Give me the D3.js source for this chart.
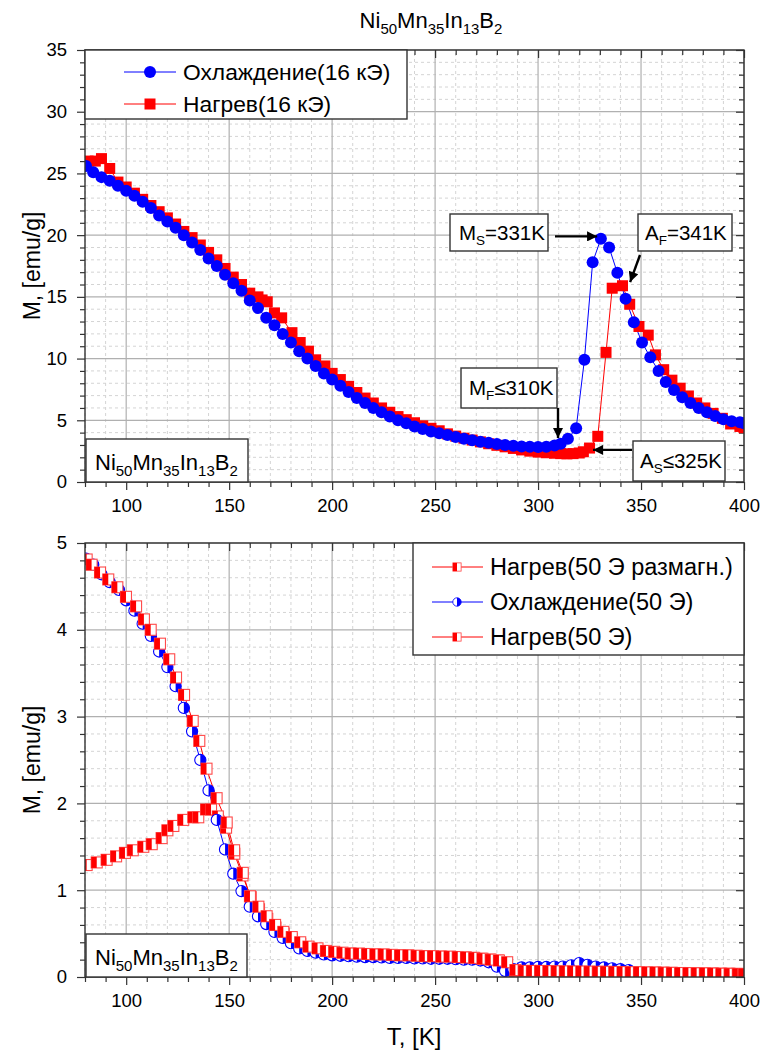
<!DOCTYPE html>
<html>
<head>
<meta charset="utf-8">
<script src="https://cdn.jsdelivr.net/npm/d3@7"></script>
<style>
  body { margin: 0; background: #fff; }
  svg { display: block; font-family: 'Liberation Sans', Arial, sans-serif; }
</style>
</head>
<body>
<svg id="chart" width="761" height="1050"></svg>
<script>
// ---------- Upper panel: 16 kOe ----------
const tempCool16 = [80.5, 84, 88, 92, 96, 100, 104, 108, 112, 116, 120, 124, 128, 132, 136, 140, 144, 148, 152, 156,
  160, 164, 168, 172, 176, 180, 184, 188, 192, 196, 200, 204, 208, 212, 216, 220, 224, 228, 232, 236,
  240, 244, 248, 252, 256, 260, 264, 268, 272, 276, 280, 284, 288, 292, 296, 300, 304, 308, 311, 314.5,
  318.5, 322.5, 326.5, 330.5, 334.5, 338.5, 342.5, 346.5, 350.5, 354.5, 358.5, 362, 366, 370, 374, 378,
  382, 386, 390, 394, 398, 400];
const magCool16 = [25.6, 25.1, 24.7, 24.4, 24.0, 23.6, 23.2, 22.7, 22.2, 21.6, 21.1, 20.6, 20.0, 19.4, 18.8, 18.1, 17.5, 16.8, 16.1, 15.5,
  14.7, 14.1, 13.3, 12.7, 12.0, 11.3, 10.6, 10.0, 9.4, 8.8, 8.3, 7.8, 7.3, 6.8, 6.4, 6.0, 5.65, 5.3, 5.0, 4.75,
  4.5, 4.3, 4.1, 3.95, 3.8, 3.65, 3.5, 3.38, 3.27, 3.17, 3.08, 3.0, 2.93, 2.88, 2.85, 2.84, 2.86, 2.95, 3.1, 3.5,
  4.35, 9.9, 17.8, 19.7, 19.0, 16.95, 14.85, 12.95, 11.3, 10.1, 9.0, 8.1, 7.45, 6.86, 6.4, 6.0,
  5.65, 5.35, 5.08, 4.92, 4.85, 4.75];

const tempHeat16 = [81.5, 85, 88, 92, 96, 100, 104, 108, 112, 116, 120, 124, 128, 132, 136, 140, 144, 148, 152, 156,
  160, 164, 166, 168.5, 172, 175.5, 180.5, 184.5, 188.5, 192, 196.5, 200, 204, 208, 212, 216, 220, 224, 228, 232,
  236, 240, 244, 248, 252, 256, 260, 264, 268, 272, 276, 280, 284, 288, 292, 296, 300, 304, 308, 311,
  314, 317, 320, 322, 325, 329, 333, 336, 341, 344.5, 349, 353.5, 357, 361, 365, 369, 373, 377, 381, 385,
  389.5, 393.5, 398, 400];
const magHeat16 = [26.0, 26.0, 26.2, 25.4, 24.3, 23.9, 23.4, 22.9, 22.4, 21.9, 21.4, 20.9, 20.3, 19.8, 19.2, 18.6, 18.0, 17.3, 16.6, 16.0,
  15.3, 15.0, 14.75, 14.6, 13.7, 13.3, 12.1, 11.3, 10.6, 9.9, 9.4, 8.8, 8.3, 7.75, 7.25, 6.8, 6.4, 6.0, 5.65, 5.3,
  5.05, 4.8, 4.55, 4.35, 4.15, 3.9, 3.72, 3.55, 3.4, 3.25, 3.1, 2.97, 2.85, 2.72, 2.6, 2.5, 2.42, 2.37, 2.33, 2.3,
  2.28, 2.3, 2.35, 2.45, 2.75, 3.7, 10.5, 15.7, 15.9, 14.4, 12.6, 11.9, 10.3, 9.1, 8.25, 7.6, 6.97, 6.4, 6.0, 5.56,
  5.16, 4.7, 4.5, 4.4];

// ---------- Lower panel: 50 Oe ----------
const tempHeatZFC50 = [80.8, 85.7, 90.5, 95.1, 99.4, 103.2, 108.3, 112.4, 117.2, 120, 122.9, 127.7, 132.6, 135, 138.8,
  141.2, 144.5, 148.5, 152.5, 156.5, 160.5, 164.5, 168.5, 172.5, 176.5, 180.5, 184.5, 188.5, 192.5, 196.5,
  200.5, 204.5, 208.5, 212.5, 216.5, 220.5, 224.5, 228.5, 232.5, 236.5, 240.5, 244.5, 248.5, 252.5, 256.5,
  260.5, 264.5, 268.5, 272.5, 276.5, 280.5, 284.5, 288.5, 292.5, 296.5, 300.5, 304.5, 308.5, 312.5, 316.5,
  320.5, 324.5, 328.5, 332.5, 336.5, 340.5, 344.5, 348.5, 352.5, 356.5, 360.5, 364.5, 368.5, 372.5, 376.5,
  380.5, 384.5, 388.5, 392.5, 396.5];
const magHeatZFC50 = [1.29, 1.32, 1.35, 1.39, 1.43, 1.46, 1.50, 1.53, 1.60, 1.69, 1.74, 1.81, 1.84, 1.84, 1.93,
  1.93, 1.85, 1.72, 1.42, 1.17, 0.92, 0.78, 0.67, 0.57, 0.50, 0.44, 0.38, 0.34, 0.31, 0.29,
  0.28, 0.275, 0.27, 0.265, 0.26, 0.26, 0.255, 0.25, 0.25, 0.245, 0.24, 0.24, 0.235, 0.235, 0.23,
  0.23, 0.225, 0.22, 0.21, 0.2, 0.19, 0.16, 0.07, 0.065, 0.065, 0.065, 0.064, 0.063, 0.062, 0.061,
  0.06, 0.06, 0.059, 0.058, 0.057, 0.055, 0.054, 0.053, 0.051, 0.05, 0.048, 0.047, 0.045, 0.044, 0.042,
  0.041, 0.04, 0.038, 0.037, 0.036];

const tempCool50 = [80.5, 84, 88, 92, 96.5, 100, 104, 108, 112, 116, 120, 124, 128, 132, 136, 140, 144, 148, 152, 156,
  160, 164, 168, 172, 176, 180, 184, 188, 192, 196, 200, 204, 208, 212, 216, 220, 224, 228, 232, 236,
  240, 244, 248, 252, 256, 260, 264, 268, 272, 276, 280, 284, 288, 292, 296, 300, 304, 308, 312, 316,
  320, 324, 328, 332, 336, 340, 344];
const magCool50 = [4.82, 4.75, 4.64, 4.55, 4.46, 4.34, 4.22, 4.07, 3.93, 3.75, 3.57, 3.35, 3.10, 2.83, 2.50, 2.15, 1.81, 1.47, 1.19, 0.99,
  0.81, 0.70, 0.61, 0.52, 0.45, 0.39, 0.33, 0.30, 0.28, 0.26, 0.25, 0.245, 0.24, 0.235, 0.23, 0.23, 0.225, 0.22, 0.22, 0.22,
  0.215, 0.215, 0.21, 0.21, 0.21, 0.205, 0.2, 0.2, 0.19, 0.17, 0.12, 0.07, 0.09, 0.11, 0.11, 0.115, 0.115, 0.12, 0.12, 0.135,
  0.16, 0.14, 0.12, 0.11, 0.1, 0.09, 0.08];

const tempHeatFC50 = [80.8, 83.2, 87.3, 91.3, 95.7, 99.9, 104.8, 108.6, 111.9, 116.4, 120.9, 124.2, 128.1, 132.3, 135.5,
  139, 143.9, 148.8, 152.4, 156.6, 160.1, 164.2, 168.2, 172.3, 176.3, 180.4, 184.5, 188.5, 192.9, 197,
  201, 205, 209, 213, 217, 221, 225, 229, 233, 237, 241, 245, 249, 253, 257, 261, 265, 269, 273, 277,
  281, 285, 289, 293, 297, 301, 305, 309, 313, 317, 321, 325, 329, 333, 337, 341, 345, 349, 353, 357,
  361, 365, 369, 373, 377, 381, 385, 389, 393, 397, 400];
const magHeatFC50 = [4.81, 4.75, 4.66, 4.58, 4.49, 4.38, 4.27, 4.12, 4.0, 3.84, 3.66, 3.45, 3.25, 2.95, 2.72,
  2.4, 2.06, 1.78, 1.46, 1.20, 0.93, 0.81, 0.70, 0.60, 0.52, 0.46, 0.40, 0.35, 0.33, 0.30,
  0.29, 0.28, 0.27, 0.27, 0.265, 0.26, 0.26, 0.255, 0.25, 0.25, 0.245, 0.24, 0.24, 0.235, 0.235, 0.23, 0.225, 0.22, 0.21, 0.2,
  0.19, 0.17, 0.08, 0.07, 0.07, 0.07, 0.068, 0.066, 0.065, 0.064, 0.063, 0.062, 0.06, 0.06, 0.058, 0.057, 0.056, 0.055, 0.053, 0.052,
  0.05, 0.048, 0.046, 0.045, 0.043, 0.042, 0.04, 0.038, 0.037, 0.035, 0.034];

// ---------- Axes ----------
const tempDomain = [80, 400];
const tempTicks = [100, 150, 200, 250, 300, 350, 400];
const magTicksTop = [0, 5, 10, 15, 20, 25, 30, 35];
const magTicksBottom = [0, 1, 2, 3, 4, 5];

const BLUE = '#0000ff', RED = '#ff0000';
const svg = d3.select('#chart');
const FONT = "'Liberation Sans', Arial, sans-serif";

const x = d3.scaleLinear().domain(tempDomain).range([85, 744]);
const yTop = d3.scaleLinear().domain([0, 35]).range([482, 50]);
const yBot = d3.scaleLinear().domain([0, 5]).range([977, 543]);

const defs = svg.append('defs');
defs.append('marker').attr('id', 'arrowHead')
  .attr('viewBox', '0 0 10 10').attr('refX', 10).attr('refY', 5)
  .attr('markerWidth', 5).attr('markerHeight', 4.2).attr('markerUnits', 'strokeWidth')
  .attr('orient', 'auto')
  .append('path').attr('d', 'M0,0 L10,5 L0,10 Z').attr('fill', '#000');

function drawFrame(y, majorY, minorStep, clipId) {
  const [y0, y1] = y.range();
  const [x0, x1] = x.range();
  defs.append('clipPath').attr('id', clipId)
    .append('rect').attr('x', x0).attr('y', y1).attr('width', x1 - x0).attr('height', y0 - y1);

  const g = svg.append('g');
  const xMinor = d3.range(80, 401, 10).filter(v => !tempTicks.includes(v));
  const yMax = y.domain()[1];
  const yMinor = d3.range(0, yMax + 1e-9, minorStep).map(v => +v.toFixed(4))
    .filter(v => !majorY.some(m => Math.abs(m - v) < 1e-6));

  // minor grid (dashed)
  g.selectAll('.gxm').data(xMinor).join('line')
    .attr('x1', d => x(d)).attr('x2', d => x(d)).attr('y1', y0).attr('y2', y1)
    .attr('stroke', '#d4d4d4').attr('stroke-dasharray', '3,3').attr('stroke-width', 1);
  g.selectAll('.gym').data(yMinor).join('line')
    .attr('x1', x0).attr('x2', x1).attr('y1', d => y(d)).attr('y2', d => y(d))
    .attr('stroke', '#d4d4d4').attr('stroke-dasharray', '3,3').attr('stroke-width', 1);
  // major grid (solid)
  g.selectAll('.gxM').data(tempTicks).join('line')
    .attr('x1', d => x(d)).attr('x2', d => x(d)).attr('y1', y0).attr('y2', y1)
    .attr('stroke', '#b0b0b0').attr('stroke-width', 1.2);
  g.selectAll('.gyM').data(majorY).join('line')
    .attr('x1', x0).attr('x2', x1).attr('y1', d => y(d)).attr('y2', d => y(d))
    .attr('stroke', '#b0b0b0').attr('stroke-width', 1.2);

  const styleAxis = sel => {
    sel.selectAll('.domain').remove();
    sel.selectAll('line').attr('stroke', '#333').attr('stroke-width', 1.2);
    sel.selectAll('text').attr('font-family', FONT).attr('font-size', 18.5).attr('fill', '#000');
  };
  // bottom
  svg.append('g').attr('transform', `translate(0,${y0})`)
    .call(d3.axisBottom(x).tickValues(tempTicks).tickSize(8).tickPadding(9).tickFormat(d3.format('d')))
    .call(styleAxis);
  svg.append('g').attr('transform', `translate(0,${y0})`)
    .call(d3.axisBottom(x).tickValues(xMinor).tickSize(5).tickFormat(''))
    .call(styleAxis);
  // left
  svg.append('g').attr('transform', `translate(${x0},0)`)
    .call(d3.axisLeft(y).tickValues(majorY).tickSize(8).tickPadding(10).tickFormat(d3.format('d')))
    .call(styleAxis);
  svg.append('g').attr('transform', `translate(${x0},0)`)
    .call(d3.axisLeft(y).tickValues(yMinor).tickSize(5).tickFormat(''))
    .call(styleAxis);
  // top and right (inward)
  svg.append('g').attr('transform', `translate(0,${y1})`)
    .call(d3.axisTop(x).tickValues(tempTicks).tickSize(-8).tickFormat(''))
    .call(styleAxis);
  svg.append('g').attr('transform', `translate(0,${y1})`)
    .call(d3.axisTop(x).tickValues(xMinor).tickSize(-5).tickFormat(''))
    .call(styleAxis);
  svg.append('g').attr('transform', `translate(${x1},0)`)
    .call(d3.axisRight(y).tickValues(majorY).tickSize(-8).tickFormat(''))
    .call(styleAxis);
  svg.append('g').attr('transform', `translate(${x1},0)`)
    .call(d3.axisRight(y).tickValues(yMinor).tickSize(-5).tickFormat(''))
    .call(styleAxis);

  return { x0, x1, y0, y1 };
}

function drawBorder(b) {
  svg.append('rect').attr('x', b.x0).attr('y', b.y1).attr('width', b.x1 - b.x0).attr('height', b.y0 - b.y1)
    .attr('fill', 'none').attr('stroke', '#333').attr('stroke-width', 1.4);
}

function drawLine(layer, temps, mags, y, color) {
  const pts = d3.zip(temps, mags);
  layer.append('path').datum(pts)
    .attr('d', d3.line().x(d => x(d[0])).y(d => y(d[1])))
    .attr('fill', 'none').attr('stroke', color).attr('stroke-width', 1);
  return pts;
}

function solidCircles(layer, pts, y) {
  layer.selectAll(null).data(pts).join('circle')
    .attr('cx', d => x(d[0])).attr('cy', d => y(d[1])).attr('r', 6).attr('fill', BLUE);
}
function solidSquares(layer, pts, y) {
  layer.selectAll(null).data(pts).join('rect')
    .attr('x', d => x(d[0]) - 5.5).attr('y', d => y(d[1]) - 5.5)
    .attr('width', 11).attr('height', 11).attr('fill', RED);
}
function halfSquare(sel) {
  sel.append('rect').attr('x', -5.5).attr('y', -5.5).attr('width', 11).attr('height', 11)
    .attr('fill', '#fff').attr('stroke', '#ff4a4a').attr('stroke-width', 1.1);
  sel.append('rect').attr('x', -5.5).attr('y', -5.5).attr('width', 5.5).attr('height', 11).attr('fill', RED);
}
function halfCircle(sel) {
  sel.append('circle').attr('r', 5.6).attr('fill', '#fff').attr('stroke', BLUE).attr('stroke-width', 1.1);
  sel.append('path').attr('d', 'M0,-5.6 A5.6,5.6 0 0,1 0,5.6 Z').attr('fill', BLUE);
}
function halfSquares(layer, pts, y) {
  layer.selectAll(null).data(pts).join('g')
    .attr('transform', d => `translate(${x(d[0])},${y(d[1])})`).call(halfSquare);
}
function halfCircles(layer, pts, y) {
  layer.selectAll(null).data(pts).join('g')
    .attr('transform', d => `translate(${x(d[0])},${y(d[1])})`).call(halfCircle);
}

// formula text with subscripts
function formula(textSel) {
  const parts = [['Ni', '50'], ['Mn', '35'], ['In', '13'], ['B', '2']];
  parts.forEach(([el, sub], i) => {
    textSel.append('tspan').attr('font-size', 22).attr('dy', i ? -6 : 0).text(el);
    textSel.append('tspan').attr('font-size', 15).attr('dy', 6).text(sub);
  });
}
function labelBox(x0, y0, w, h) {
  svg.append('rect').attr('x', x0).attr('y', y0).attr('width', w).attr('height', h)
    .attr('fill', '#fff').attr('stroke', '#333').attr('stroke-width', 1.4);
}
function subLabel(xPos, yPos, main, sub, rest) {
  const t = svg.append('text').attr('x', xPos).attr('y', yPos).attr('font-family', FONT).attr('font-size', 20.5);
  t.append('tspan').text(main);
  t.append('tspan').attr('font-size', 13.5).attr('dy', 5).text(sub);
  t.append('tspan').attr('dy', -5).text(rest);
}
function arrow(xa, ya, xb, yb) {
  svg.append('line').attr('x1', xa).attr('y1', ya).attr('x2', xb).attr('y2', yb)
    .attr('stroke', '#000').attr('stroke-width', 2.4).attr('marker-end', 'url(#arrowHead)');
}

// ===== Title =====
svg.append('text').attr('x', 431).attr('y', 28).attr('text-anchor', 'middle')
  .attr('font-family', FONT).call(formula);

// ===== Upper panel =====
const bTop = drawFrame(yTop, magTicksTop, 1, 'clipTop');
const topLayer = svg.append('g').attr('clip-path', 'url(#clipTop)');
const heat16 = drawLine(topLayer, tempHeat16, magHeat16, yTop, RED);
const cool16 = drawLine(topLayer, tempCool16, magCool16, yTop, BLUE);
solidSquares(topLayer, heat16, yTop);
solidCircles(topLayer, cool16, yTop);
drawBorder(bTop);

// legend (upper)
labelBox(85, 50, 322, 69);
[[72, BLUE, 'Охлаждение(16 кЭ)', 'c'], [104, RED, 'Нагрев(16 кЭ)', 's']].forEach(([ly, col, label, kind]) => {
  svg.append('line').attr('x1', 124).attr('x2', 176).attr('y1', ly).attr('y2', ly).attr('stroke', col).attr('stroke-width', 1);
  if (kind === 'c') svg.append('circle').attr('cx', 150).attr('cy', ly).attr('r', 6).attr('fill', col);
  else svg.append('rect').attr('x', 144.5).attr('y', ly - 5.5).attr('width', 11).attr('height', 11).attr('fill', col);
  svg.append('text').attr('x', 183).attr('y', ly + 8).attr('font-family', FONT).attr('font-size', 22.8).text(label);
});

// sample label (upper)
labelBox(86, 439, 162, 43);
svg.append('text').attr('x', 95).attr('y', 470).attr('font-family', FONT).call(formula);

// transition annotations
labelBox(450, 214, 98, 37);
subLabel(459, 240, 'M', 'S', '=331K');
arrow(555, yTop(19.9), x(328.7), yTop(19.9));

labelBox(638, 214, 94, 37);
subLabel(645, 240, 'A', 'F', '=341K');
arrow(640, 255, x(344.7), yTop(16.2));

labelBox(461, 368, 96, 40);
subLabel(469, 395, 'M', 'F', '≤310K');
arrow(558, 408, x(309.7), yTop(3.56));

labelBox(633, 441, 92, 40);
subLabel(640, 468, 'A', 'S', '≤325K');
arrow(632, yTop(2.6), x(326.7), yTop(2.6));

// ===== Lower panel =====
const bBot = drawFrame(yBot, magTicksBottom, 0.2, 'clipBot');
const botLayer = svg.append('g').attr('clip-path', 'url(#clipBot)');
const zfc50 = drawLine(botLayer, tempHeatZFC50, magHeatZFC50, yBot, RED);
const cool50 = drawLine(botLayer, tempCool50, magCool50, yBot, BLUE);
const fc50 = drawLine(botLayer, tempHeatFC50, magHeatFC50, yBot, RED);
halfSquares(botLayer, zfc50, yBot);
halfCircles(botLayer, cool50, yBot);
halfSquares(botLayer, fc50, yBot);
drawBorder(bBot);

// legend (lower)
labelBox(413, 543, 331, 112);
[[567, RED, 'Нагрев(50 Э размагн.)', 's'], [602, BLUE, 'Охлаждение(50 Э)', 'c'], [637, RED, 'Нагрев(50 Э)', 's']]
  .forEach(([ly, col, label, kind]) => {
    svg.append('line').attr('x1', 432).attr('x2', 483).attr('y1', ly).attr('y2', ly).attr('stroke', col).attr('stroke-width', 1);
    const g = svg.append('g').attr('transform', `translate(457,${ly}) scale(0.75)`);
    if (kind === 'c') halfCircle(g); else halfSquare(g);
    svg.append('text').attr('x', 490).attr('y', ly + 8).attr('font-family', FONT).attr('font-size', 23.5).text(label);
  });

// sample label (lower)
labelBox(86, 934, 161, 43);
svg.append('text').attr('x', 95).attr('y', 965).attr('font-family', FONT).call(formula);

// ===== Axis titles =====
svg.append('text').attr('x', 414).attr('y', 1045).attr('text-anchor', 'middle')
  .attr('font-family', FONT).attr('font-size', 24).text('T, [K]');
[266, 760].forEach(cy => {
  svg.append('text').attr('transform', `translate(40,${cy}) rotate(-90)`).attr('text-anchor', 'middle')
    .attr('font-family', FONT).attr('font-size', 23).text('M, [emu/g]');
});
</script>
</body>
</html>
